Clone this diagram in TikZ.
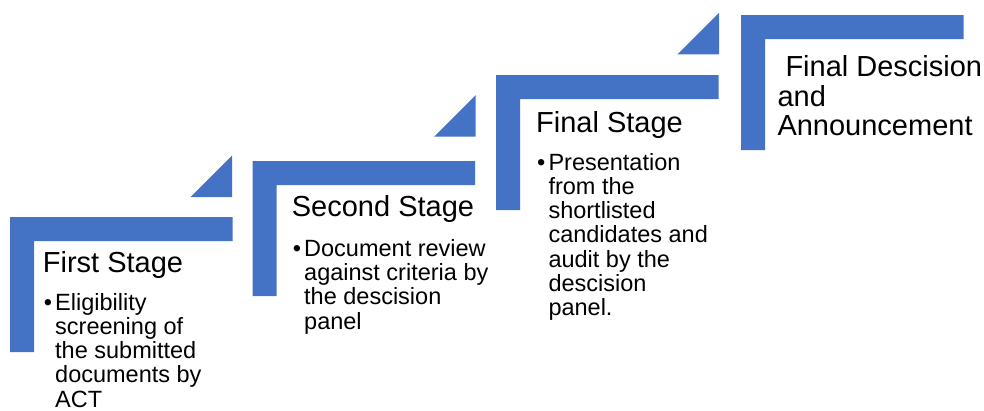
\documentclass[tikz,border=0pt]{standalone}
\usepackage{fontspec}
\setmainfont{Liberation Sans}
\usetikzlibrary{positioning}
\definecolor{stepblue}{HTML}{4472C4}

\begin{document}
\begin{tikzpicture}[x=1pt,y=-1pt,
  stepbar/.style={fill=stepblue},
  head/.style={anchor=base west,inner sep=0pt,align=left,font=\fontsize{29}{29.5}\selectfont},
  body/.style={anchor=base west,inner sep=0pt,align=left,font=\fontsize{23.5}{24.3}\selectfont},
  dot/.style={anchor=base west,inner sep=0pt,font=\fontsize{23.5}{24.3}\selectfont}]
\useasboundingbox (0,0) rectangle (984,410);
% steps
\foreach \x/\y in {10/217,252.7/161,496/75,741/15}
  \fill[stepbar] (\x,\y) -- ++(222.5,0) -- ++(0,24) -- ++(-198.5,0) -- ++(0,111) -- ++(-24,0) -- cycle;
% small corner triangles
\foreach \x/\y in {232/197,475.7/136.7,719/54.3}
  \fill[stepbar] (\x,\y) -- ++(-41.5,0) -- ++(41.5,-41.5) -- cycle;
% stage 1 (multi-line texts are placed by their last baseline)
\node[head] (t1) at (42.7,272.3) {First Stage};
\node[dot] (b1) at (43.7,310) {•};
\node[body] (d1) at (55,407.2) {Eligibility\\screening of\\the submitted\\documents by\\ACT};
% stage 2
\node[head] (t2) at (291.7,216.7) {Second Stage};
\node[dot] (b2) at (292.7,256.3) {•};
\node[body] (d2) at (304,329.2) {Document review\\against criteria by\\the descision\\panel};
% stage 3
\node[head] (t3) at (536,132.7) {Final Stage};
\node[dot] (b3) at (537,170) {•};
\node[body] (d3) at (548.3,315.8) {Presentation\\from the\\shortlisted\\candidates and\\audit by the\\descision\\panel.};
% stage 4
\node[head] (t4) at (777.3,135.7) {\hspace*{8pt}Final Descision\\and\\Announcement};
\end{tikzpicture}
\end{document}
